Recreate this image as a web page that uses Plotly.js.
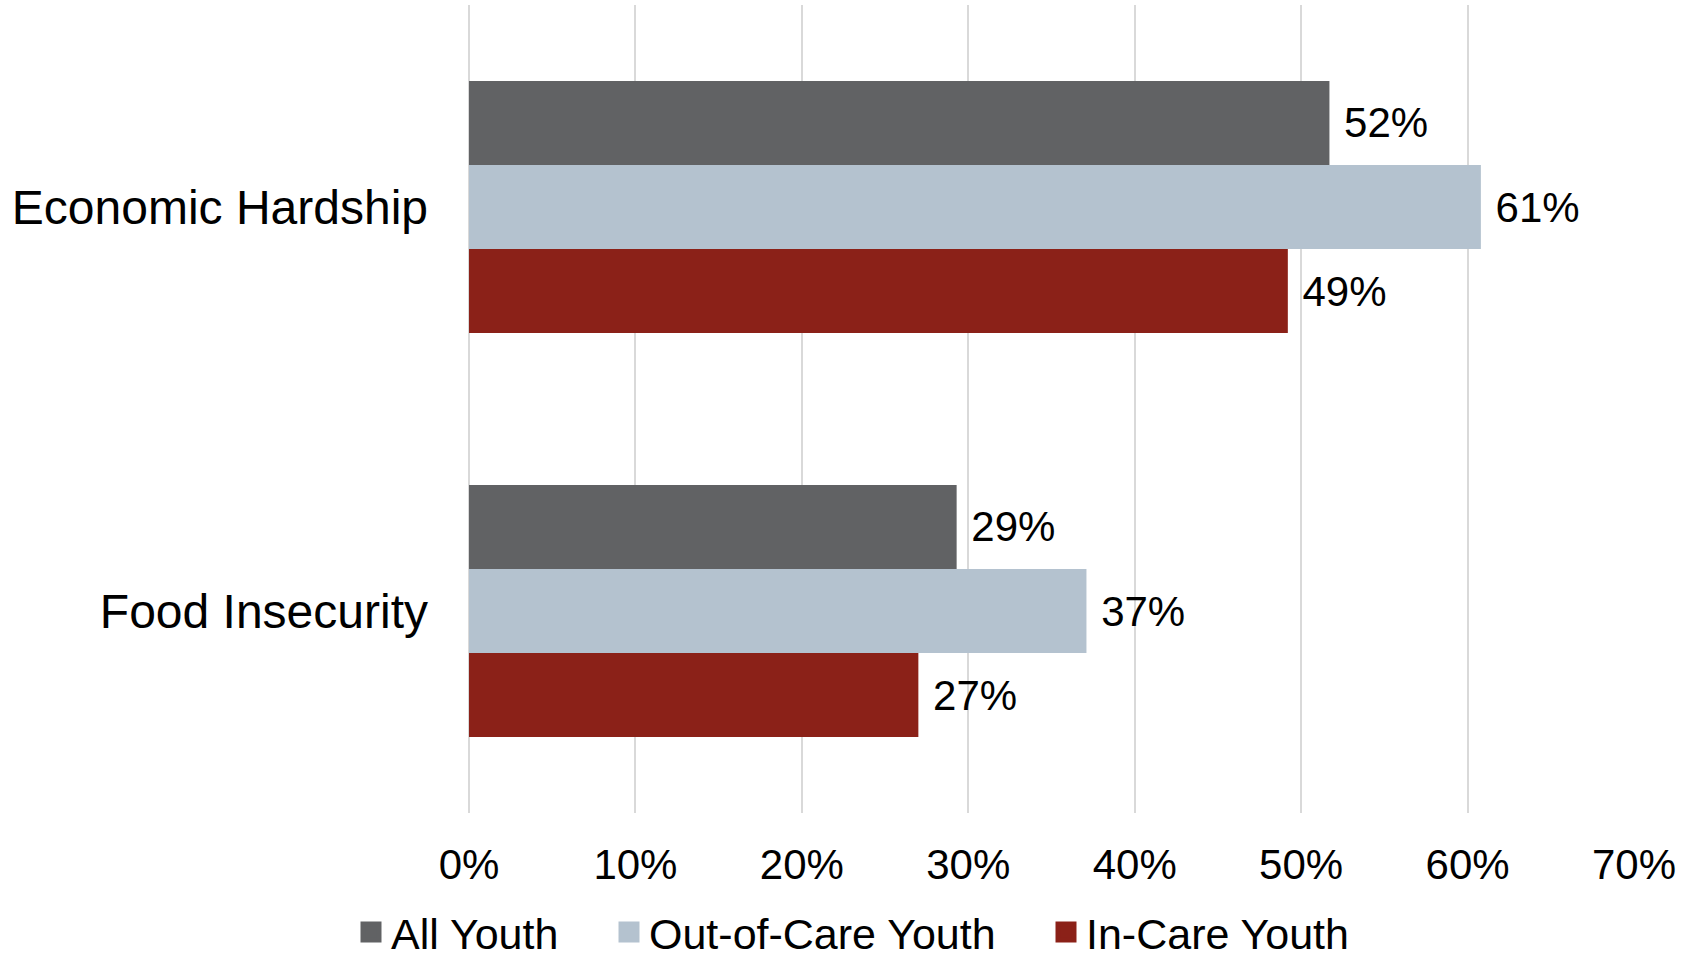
<!DOCTYPE html>
<html>
<head>
<meta charset="utf-8">
<script src="https://cdn.plot.ly/plotly-3.0.1.min.js"></script>
<style>html,body{margin:0;padding:0;background:#fff;}#chart{width:1690px;height:953px;}</style>
</head>
<body>
<div id="chart"></div>
<script>
var categories = ["Economic Hardship", "Food Insecurity"];
var seriesNames = ["All Youth", "Out-of-Care Youth", "In-Care Youth"];
var allYouth = [0.517, 0.293];
var outOfCareYouth = [0.608, 0.371];
var inCareYouth = [0.492, 0.270];
var xTickVals = [0, 0.1, 0.2, 0.3, 0.4, 0.5, 0.6, 0.7];
var colors = ["#616264", "#B4C2CF", "#8B2118"];

var FONT = "Liberation Sans, Arial, sans-serif";
var seriesValues = [allYouth, outOfCareYouth, inCareYouth];

var traces = [];
seriesValues.forEach(function(vals, i) {
  traces.push({
    type: "bar",
    orientation: "h",
    name: seriesNames[i],
    y: categories,
    x: vals,
    marker: {color: colors[i]},
    texttemplate: "\u00a0%{x:.0%}",
    textposition: "outside",
    textfont: {family: FONT, size: 42, color: "#000"},
    cliponaxis: false,
    showlegend: false,
    hoverinfo: "skip"
  });
});
// legend entries
var legendNames = ["legend", "legend2", "legend3"];
seriesNames.forEach(function(n, i) {
  traces.push({
    type: "scatter",
    mode: "markers",
    x: [null],
    y: [null],
    name: n,
    marker: {symbol: "square", size: 16, color: colors[i], line: {color: colors[i], width: 5}},
    showlegend: true,
    legend: legendNames[i],
    hoverinfo: "skip"
  });
});

var legendX = [351, 609, 1046];
function legendCfg(x) {
  return {
    orientation: "h",
    xref: "container", yref: "container",
    x: x / 1690, xanchor: "left",
    y: 1 - 932 / 953, yanchor: "middle",
    font: {family: FONT, size: 43, color: "#000"},
    bgcolor: "rgba(0,0,0,0)",
    borderwidth: 0
  };
}

var layout = {
  width: 1690,
  height: 953,
  margin: {l: 469, r: 56, t: 5, b: 140},
  paper_bgcolor: "#fff",
  plot_bgcolor: "#fff",
  barmode: "group",
  bargap: 0.376,
  bargroupgap: 0,
  font: {family: FONT, size: 42, color: "#000"},
  xaxis: {
    range: [0, 0.7],
    tickvals: xTickVals,
    tickformat: ".0%",
    showgrid: true,
    gridcolor: "#D9D9D9",
    gridwidth: 2,
    zeroline: true,
    zerolinecolor: "#D9D9D9",
    zerolinewidth: 2,
    showline: false,
    ticks: "",
    ticklabelstandoff: 23,
    tickfont: {family: FONT, size: 42, color: "#000"},
    fixedrange: true
  },
  yaxis: {
    type: "category",
    autorange: "reversed",
    showgrid: false,
    zeroline: false,
    showline: false,
    ticks: "",
    ticklabelstandoff: 40,
    tickfont: {family: FONT, size: 48, color: "#000"},
    fixedrange: true
  },
  legend: legendCfg(legendX[0]),
  legend2: legendCfg(legendX[1]),
  legend3: legendCfg(legendX[2]),
  showlegend: true
};

Plotly.newPlot("chart", traces, layout, {displayModeBar: false, staticPlot: true});
</script>
</body>
</html>
